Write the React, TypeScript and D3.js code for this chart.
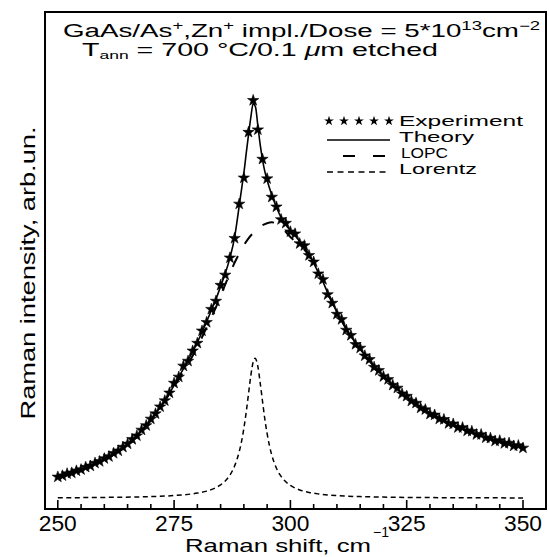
import React from "react";
import * as d3 from "d3";

// ---- data ----
const expShift = d3.range(250, 351, 1);
const expIntensity = [
  8.1, 8.4, 8.9, 9.1, 9.6, 9.9, 10.5, 10.8, 11.5, 11.9,
  12.6, 13.1, 13.9, 14.5, 15.4, 16.2, 17.3, 18.2, 19.6, 20.7,
  22.3, 23.6, 25.3, 26.8, 28.7, 31.1, 32.6, 35.3, 36.5, 39.0,
  40.9, 43.9, 46.0, 49.2, 51.2, 55.1, 57.6, 61.8, 66.6, 75.0,
  81.4, 92.6, 100.4, 93.2, 86.0, 81.2, 76.7, 74.3, 71.2, 70.3,
  68.2, 67.7, 65.3, 64.8, 62.4, 60.8, 57.9, 56.5, 52.8, 50.7,
  48.0, 46.7, 44.1, 42.8, 40.6, 39.7, 37.8, 36.9, 35.0, 34.2,
  32.7, 32.0, 30.6, 29.9, 28.5, 27.9, 26.7, 26.2, 25.0, 24.6,
  23.5, 23.3, 22.3, 22.2, 21.2, 21.1, 20.2, 20.2, 19.4, 19.3,
  18.5, 18.5, 17.7, 17.6, 16.9, 17.0, 16.3, 16.4, 15.7, 15.8,
  15.2,
];

const theoryShift = [
  250, 252, 254, 256, 258, 260, 262, 264, 266, 268, 270, 272, 274, 276, 278,
  280, 281, 282, 283, 284, 285, 286, 287, 288, 288.5, 289, 289.5, 290, 290.5,
  291, 291.5, 292, 292.5, 293, 293.5, 294, 294.5, 295, 296, 297, 298, 299, 300,
  301, 302, 303, 304, 305, 306, 307, 308, 309, 310, 312, 314, 316, 318, 320,
  322, 324, 326, 328, 330, 332, 334, 336, 338, 340, 342, 344, 346, 348, 350,
];
const theoryIntensity = [
  8.0, 8.7, 9.5, 10.4, 11.4, 12.5, 13.8, 15.3, 17.2, 19.5, 22.2, 25.2, 28.6, 32.6, 36.7,
  41.1, 43.6, 46.2, 48.9, 51.7, 54.8, 58.0, 61.8, 66.8, 70.5, 74.6, 78.6, 82.6, 87.4,
  92.0, 96.3, 99.6, 98.8, 94.2, 89.6, 85.9, 83.0, 80.8, 77.2, 74.2, 71.7, 69.9, 68.5,
  67.2, 65.8, 64.4, 62.6, 60.5, 58.2, 55.9, 53.3, 50.8, 48.5, 44.4, 40.9, 37.9, 35.2, 32.8,
  30.6, 28.6, 26.8, 25.2, 23.8, 22.5, 21.4, 20.3, 19.4, 18.6, 17.8, 17.1, 16.5, 15.9, 15.4,
];

const lopcShift = [
  250, 255, 260, 265, 270, 275, 280, 282, 284, 285, 286, 287, 288, 289, 290,
  291, 292, 293, 294, 295, 296, 297, 298, 299, 300, 301, 302, 303, 304, 305,
  306, 307, 308, 310, 315, 320, 325, 330, 335, 340, 345, 350,
];
const lopcIntensity = [
  7.9, 9.8, 12.3, 16.0, 21.9, 30.3, 40.0, 44.8, 49.7, 52.5, 55.3, 58.0, 60.6, 62.9, 64.9,
  66.6, 67.9, 69.0, 69.8, 70.3, 70.5, 70.2, 69.4, 68.2, 66.9, 65.9, 64.9, 63.8, 62.3, 60.4,
  58.2, 55.9, 53.3, 48.5, 39.4, 32.8, 27.7, 23.8, 20.9, 18.6, 16.8, 15.4,
];

const lorentzShift = [
  250, 260, 270, 275, 278, 280, 282, 284, 285, 286, 287, 288, 289, 289.5, 290,
  290.5, 291, 291.5, 292, 292.4, 293, 293.5, 294, 294.5, 295, 295.5, 296, 297,
  298, 299, 300, 302, 304, 306, 310, 315, 320, 330, 340, 350,
];
const lorentzIntensity = [
  3.0, 3.09, 3.29, 3.54, 3.83, 4.14, 4.63, 5.49, 6.17, 7.13, 8.56, 10.77, 14.3, 16.8, 20.05,
  23.98, 28.5, 33.0, 36.3, 37.2, 35.2, 31.2, 26.7, 22.3, 18.7, 15.75, 13.45, 10.24,
  8.23, 6.91, 6.01, 4.92, 4.31, 3.94, 3.53, 3.28, 3.16, 3.04, 2.99, 2.96,
];

const xTickLabels = [250, 275, 300, 325, 350];
const legendLabels = ["Experiment", "Theory", "LOPC", "Lorentz"];
const xAxisTitle = "Raman shift, cm";
const yAxisTitle = "Raman intensity, arb.un.";

const FONT = "'Liberation Sans', Arial, sans-serif";

export default function App() {
  const W = 549;
  const H = 557;
  const frame = { l: 45, r: 546, t: 12, b: 509 };
  const x = d3.scaleLinear().domain([250, 350]).range([57.8, 523]);
  const y = d3.scaleLinear().domain([0, 100]).range([510, 102]);

  const mkLine = (xs: number[], ys: number[]) =>
    d3
      .line<number>()
      .x((_, i) => x(xs[i]))
      .y((d) => y(d))
      .curve(d3.curveMonotoneX)(ys) || "";

  const star = d3.symbol().type(d3.symbolStar).size(40)() || "";
  const legStar = d3.symbol().type(d3.symbolStar).size(30)() || "";
  const minorTicks = x.ticks(20);

  const legX0 = 327;
  const legX1 = 390;
  const legTextX = 399;
  const rows = [121, 137, 153, 169];

  return (
    <svg
      width={W}
      height={H}
      style={{ position: "absolute", left: 0, top: 0, background: "#fff" }}
      fontFamily={FONT}
    >
      <rect x={0} y={0} width={W} height={H} fill="#fff" />
      {/* frame */}
      <rect
        x={frame.l}
        y={frame.t}
        width={frame.r - frame.l}
        height={frame.b - frame.t}
        fill="none"
        stroke="#000"
        strokeWidth={2}
      />
      {/* ticks */}
      {minorTicks.map((t) => (
        <line
          key={"t" + t}
          x1={x(t)}
          x2={x(t)}
          y1={frame.b}
          y2={frame.b - (xTickLabels.includes(t) ? 9 : 5)}
          stroke="#000"
          strokeWidth={1.6}
        />
      ))}
      {xTickLabels.map((t) => (
        <text
          key={"l" + t}
          x={x(t)}
          y={531}
          fontSize={22}
          textAnchor="middle"
          textLength={38}
          lengthAdjust="spacingAndGlyphs"
        >
          {t}
        </text>
      ))}
      {/* axis titles */}
      <text x={185} y={552} fontSize={19} textLength={186} lengthAdjust="spacingAndGlyphs">
        {xAxisTitle}
      </text>
      <text x={373} y={537} fontSize={14} textLength={16} lengthAdjust="spacingAndGlyphs">
        −1
      </text>
      <text
        transform="translate(35,273) rotate(-90)"
        fontSize={20}
        textAnchor="middle"
        textLength={293}
        lengthAdjust="spacingAndGlyphs"
      >
        {yAxisTitle}
      </text>

      {/* title */}
      <text x={63} y={37} fontSize={18} textLength={477} lengthAdjust="spacingAndGlyphs">
        GaAs/As<tspan fontSize={12} dy={-7}>+</tspan>
        <tspan dy={7}>,Zn</tspan>
        <tspan fontSize={12} dy={-7}>+</tspan>
        <tspan dy={7}> impl./Dose = 5*10</tspan>
        <tspan fontSize={12} dy={-7}>13</tspan>
        <tspan dy={7}>cm</tspan>
        <tspan fontSize={12} dy={-7}>−2</tspan>
      </text>
      <text x={82} y={56} fontSize={18} textLength={356} lengthAdjust="spacingAndGlyphs">
        T<tspan fontSize={11} dy={3}>ann</tspan>
        <tspan dy={-3}> = 700 °C/0.1 </tspan>
        <tspan fontStyle="italic">μ</tspan>
        <tspan>m etched</tspan>
      </text>

      {/* curves */}
      <path
        d={mkLine(lorentzShift, lorentzIntensity)}
        fill="none"
        stroke="#000"
        strokeWidth={1.5}
        strokeDasharray="5,3.5"
      />
      <path
        d={mkLine(lopcShift, lopcIntensity)}
        fill="none"
        stroke="#000"
        strokeWidth={2}
        strokeDasharray="12,14"
      />
      <path
        d={mkLine(theoryShift, theoryIntensity)}
        fill="none"
        stroke="#000"
        strokeWidth={1.6}
      />
      {expShift.map((s, i) => (
        <path
          key={"e" + s}
          d={star}
          transform={`translate(${x(s)},${y(expIntensity[i])})`}
          fill="#000"
          stroke="#000"
          strokeWidth={0.6}
        />
      ))}

      {/* legend */}
      {d3.range(5).map((k) => (
        <path
          key={"ls" + k}
          d={legStar}
          transform={`translate(${legX0 + 2 + k * 15},${rows[0]})`}
          fill="#000"
        />
      ))}
      <line x1={legX0} x2={legX1} y1={rows[1] + 3} y2={rows[1] + 3} stroke="#000" strokeWidth={1.6} />
      <line
        x1={343}
        x2={385}
        y1={rows[2] + 3}
        y2={rows[2] + 3}
        stroke="#000"
        strokeWidth={2}
        strokeDasharray="12,18"
      />
      <line
        x1={legX0}
        x2={legX1}
        y1={rows[3] + 3}
        y2={rows[3] + 3}
        stroke="#000"
        strokeWidth={1.5}
        strokeDasharray="6,4.5"
      />
      {legendLabels.map((lab, i) => (
        <text
          key={lab}
          x={legTextX + (i === 2 ? 2 : 0)}
          y={rows[i] + 5}
          fontSize={15}
          textLength={[124, 75, 47, 78][i]}
          lengthAdjust="spacingAndGlyphs"
        >
          {lab}
        </text>
      ))}
    </svg>
  );
}
